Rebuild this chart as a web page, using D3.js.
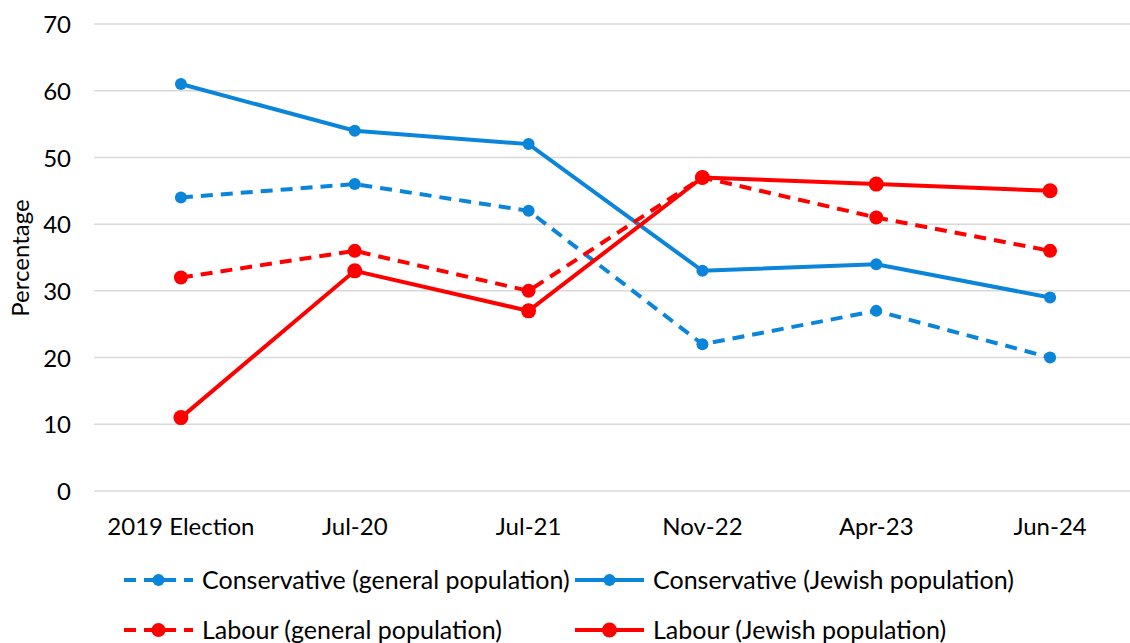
<!DOCTYPE html>
<html>
<head>
<meta charset="utf-8">
<script src="https://cdn.jsdelivr.net/npm/d3@7"></script>
<style>
  body { margin: 0; background: #fff; }
  svg text { font-family: Lato, "Open Sans", sans-serif; fill: #000; }
</style>
</head>
<body>
<svg id="chart" width="1130" height="643"></svg>
<script>
var categories = ["2019 Election", "Jul-20", "Jul-21", "Nov-22", "Apr-23", "Jun-24"];
var conGeneral = [44, 46, 42, 22, 27, 20];
var conJewish = [61, 54, 52, 33, 34, 29];
var labGeneral = [32, 36, 30, 47, 41, 36];
var labJewish = [11, 33, 27, 47, 46, 45];
var yTicks = [0, 10, 20, 30, 40, 50, 60, 70];

var blue = "#0a85d9";
var red = "#ff0000";

var series = [
    { name: "Conservative (general population)", values: conGeneral, color: blue, dashed: true, r: 6 },
    { name: "Conservative (Jewish population)", values: conJewish, color: blue, dashed: false, r: 6 },
    { name: "Labour (general population)", values: labGeneral, color: red, dashed: true, r: 7 },
    { name: "Labour (Jewish population)", values: labJewish, color: red, dashed: false, r: 7.5 }
];

var svg = d3.select("#chart");

var x = d3.scaleBand().domain(categories).range([94, 1137]);
var y = d3.scaleLinear().domain([0, 70]).range([491, 24]);
function cx(d) { return x(d) + x.bandwidth() / 2; }

// gridlines
svg.append("g").selectAll("line").data(yTicks).enter().append("line")
    .attr("x1", 94).attr("x2", 1130)
    .attr("y1", function(d) { return y(d); })
    .attr("y2", function(d) { return y(d); })
    .attr("stroke", "#d9d9d9").attr("stroke-width", 1.5);

// y axis labels
var yAxis = d3.axisLeft(y).tickValues(yTicks).tickSize(0).tickPadding(0);
svg.append("g").attr("transform", "translate(71,0)").call(yAxis)
    .call(function(g) { g.select(".domain").remove(); })
    .selectAll("text")
    .style("font-size", "24px").attr("font-family", null).attr("dy", "0.36em");

// x axis labels
var xAxis = d3.axisBottom(x).tickSize(0).tickPadding(0);
svg.append("g").attr("transform", "translate(0,526)").call(xAxis)
    .call(function(g) { g.select(".domain").remove(); })
    .selectAll("text")
    .style("font-size", "24px").attr("font-family", null).attr("dy", "0.36em");

svg.append("text")
    .attr("transform", "translate(29,258) rotate(-90)")
    .attr("text-anchor", "middle")
    .style("font-size", "24px")
    .text("Percentage");

var line = d3.line()
    .x(function(d, i) { return cx(categories[i]); })
    .y(function(d) { return y(d); });

series.forEach(function(s) {
    var g = svg.append("g");
    g.append("path").datum(s.values)
        .attr("d", line)
        .attr("fill", "none")
        .attr("stroke", s.color)
        .attr("stroke-width", 4)
        .attr("stroke-dasharray", s.dashed ? "12,8" : null);
    g.selectAll("circle").data(s.values).enter().append("circle")
        .attr("cx", function(d, i) { return cx(categories[i]); })
        .attr("cy", function(d) { return y(d); })
        .attr("r", s.r)
        .attr("fill", s.color);
});

// legend
var legendPos = [[124, 580], [575, 580], [124, 630], [575, 630]];
series.forEach(function(s, i) {
    var lx = legendPos[i][0], ly = legendPos[i][1];
    var g = svg.append("g").attr("transform", "translate(" + lx + "," + ly + ")");
    g.append("line")
        .attr("x1", 0).attr("x2", 69).attr("y1", 0).attr("y2", 0)
        .attr("stroke", s.color).attr("stroke-width", 4)
        .attr("stroke-dasharray", s.dashed ? "12,8" : null);
    g.append("circle").attr("cx", 34.5).attr("cy", 0).attr("r", s.r).attr("fill", s.color);
    g.append("text").attr("x", 78).attr("y", 0).attr("dy", "0.36em")
        .style("font-size", "25px").text(s.name);
});
</script>
</body>
</html>
